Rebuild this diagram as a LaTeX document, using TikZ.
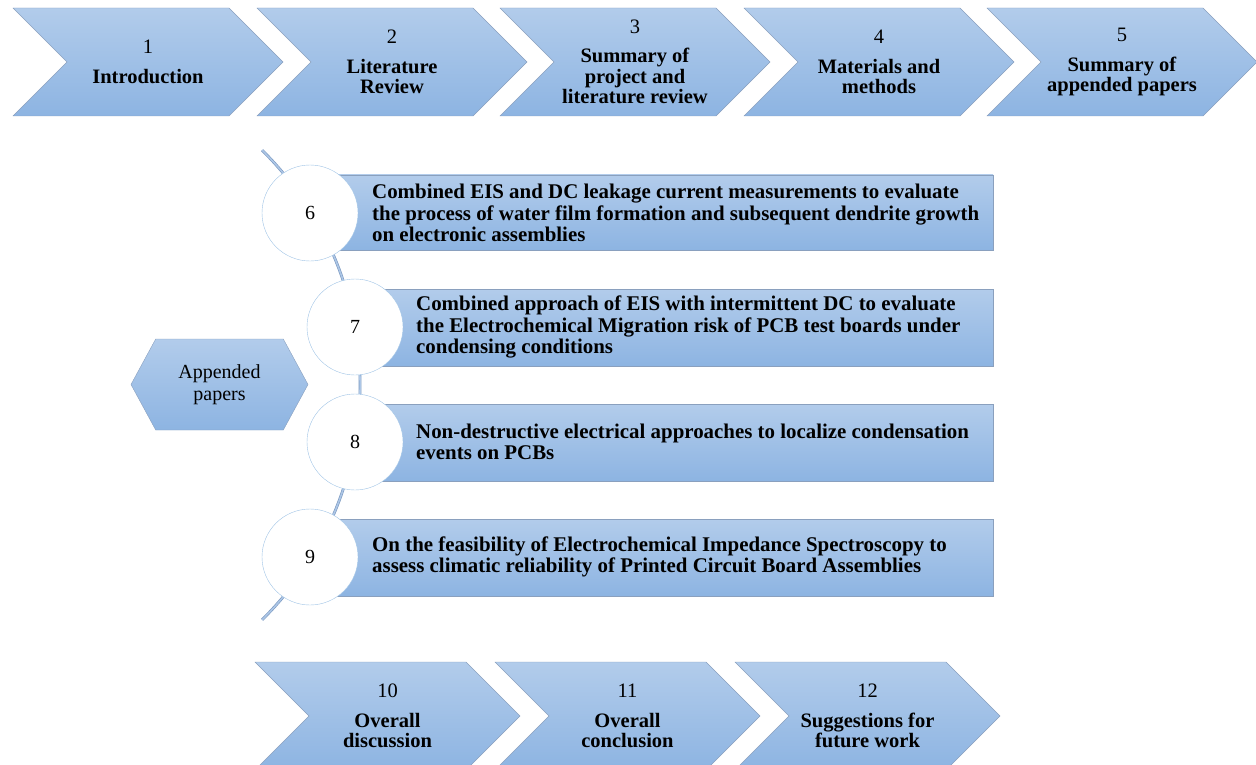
\documentclass[tikz,border=0pt]{standalone}
\usepackage{fontspec}
\setmainfont{Liberation Serif}
\usetikzlibrary{shapes.symbols}
\definecolor{boxtop}{RGB}{178,204,235}
\definecolor{boxbot}{RGB}{141,180,226}
\definecolor{boxline}{RGB}{138,160,190}
\definecolor{ringline}{RGB}{160,196,230}
\definecolor{spine}{RGB}{120,150,190}
\definecolor{spinefill}{RGB}{172,198,230}
\begin{document}
\begin{tikzpicture}[x=1pt,y=-1pt,
    chev/.style={shape=signal, signal to=east, signal from=west, signal pointer angle=90,
                 draw=boxline, top color=boxtop, bottom color=boxbot, inner sep=0pt,
                 minimum width=270, minimum height=108, align=center,
                 font=\fontsize{20.5}{20.5}\selectfont},
    hexa/.style={shape=signal, signal to=west and east, signal pointer angle=123,
                 draw=boxline, top color=boxtop, bottom color=boxbot, inner sep=0pt,
                 minimum width=177, minimum height=91, align=center,
                 font=\fontsize{20}{22}\selectfont},
    paperbox/.style={rectangle, draw=boxline, top color=boxtop, bottom color=boxbot},
    papertext/.style={anchor=west, inner sep=0pt, align=left,
                 font=\fontsize{20.9}{21.5}\selectfont\bfseries},
    ring/.style={circle, draw=ringline, fill=white, minimum size=96, inner sep=0pt,
                 font=\fontsize{20}{22}\selectfont}]
    \useasboundingbox (0,0) rectangle (1256,765);

    \node[chev] (ch1) at (148,62)  {1\\[9pt]\textbf{Introduction}};
    \node[chev] (ch2) at (392,62)  {2\\[9pt]\textbf{Literature}\\\textbf{Review}};
    \node[chev] (ch3) at (635,62)  {3\\[9pt]\textbf{Summary of}\\\textbf{project and}\\\textbf{literature review}};
    \node[chev] (ch4) at (879,62)  {4\\[9pt]\textbf{Materials and}\\\textbf{methods}};
    \node[chev] (ch5) at (1122,62) {5\\[9pt]\textbf{Summary of}\\\textbf{appended papers}};

    \node[hexa] (app) at (219.5,384.5) {Appended\\papers};

    \draw[draw=spine, double=spinefill, double distance=1.6pt, line width=0.6pt]
        plot[domain=-45.3:45.3, samples=60] ({29.7+330.4*cos(\x)},{385+330.4*sin(\x)});

    \node[paperbox, minimum width=683, minimum height=75] (b6) at (651.5,212.5) {};
    \node[paperbox, minimum width=638, minimum height=77] (b7) at (674,327.5)   {};
    \node[paperbox, minimum width=638, minimum height=77] (b8) at (674,442.5)   {};
    \node[paperbox, minimum width=683, minimum height=77] (b9) at (651.5,557.5) {};

    \node[ring] (c6) at (310,213) {6};
    \node[ring] (c7) at (355,327) {7};
    \node[ring] (c8) at (355,442) {8};
    \node[ring] (c9) at (310,557) {9};

    \node[papertext] (t6) at (372,213) {Combined EIS and DC leakage current measurements to evaluate\\the process of water film formation and subsequent dendrite growth\\on electronic assemblies};
    \node[papertext] (t7) at (416,327) {Combined approach of EIS with intermittent DC to evaluate\\the Electrochemical Migration risk of PCB test boards under\\condensing conditions};
    \node[papertext] (t8) at (416,442) {Non-destructive electrical approaches to localize condensation\\events on PCBs};
    \node[papertext] (t9) at (372,557) {On the feasibility of Electrochemical Impedance Spectroscopy to\\assess climatic reliability of Printed Circuit Board Assemblies};

    \node[chev, minimum width=265] (ch10) at (387.5,716) {10\\[9pt]\textbf{Overall}\\\textbf{discussion}};
    \node[chev, minimum width=265] (ch11) at (627.5,716) {11\\[9pt]\textbf{Overall}\\\textbf{conclusion}};
    \node[chev, minimum width=265] (ch12) at (867.5,716) {12\\[9pt]\textbf{Suggestions for}\\\textbf{future work}};
\end{tikzpicture}
\end{document}
